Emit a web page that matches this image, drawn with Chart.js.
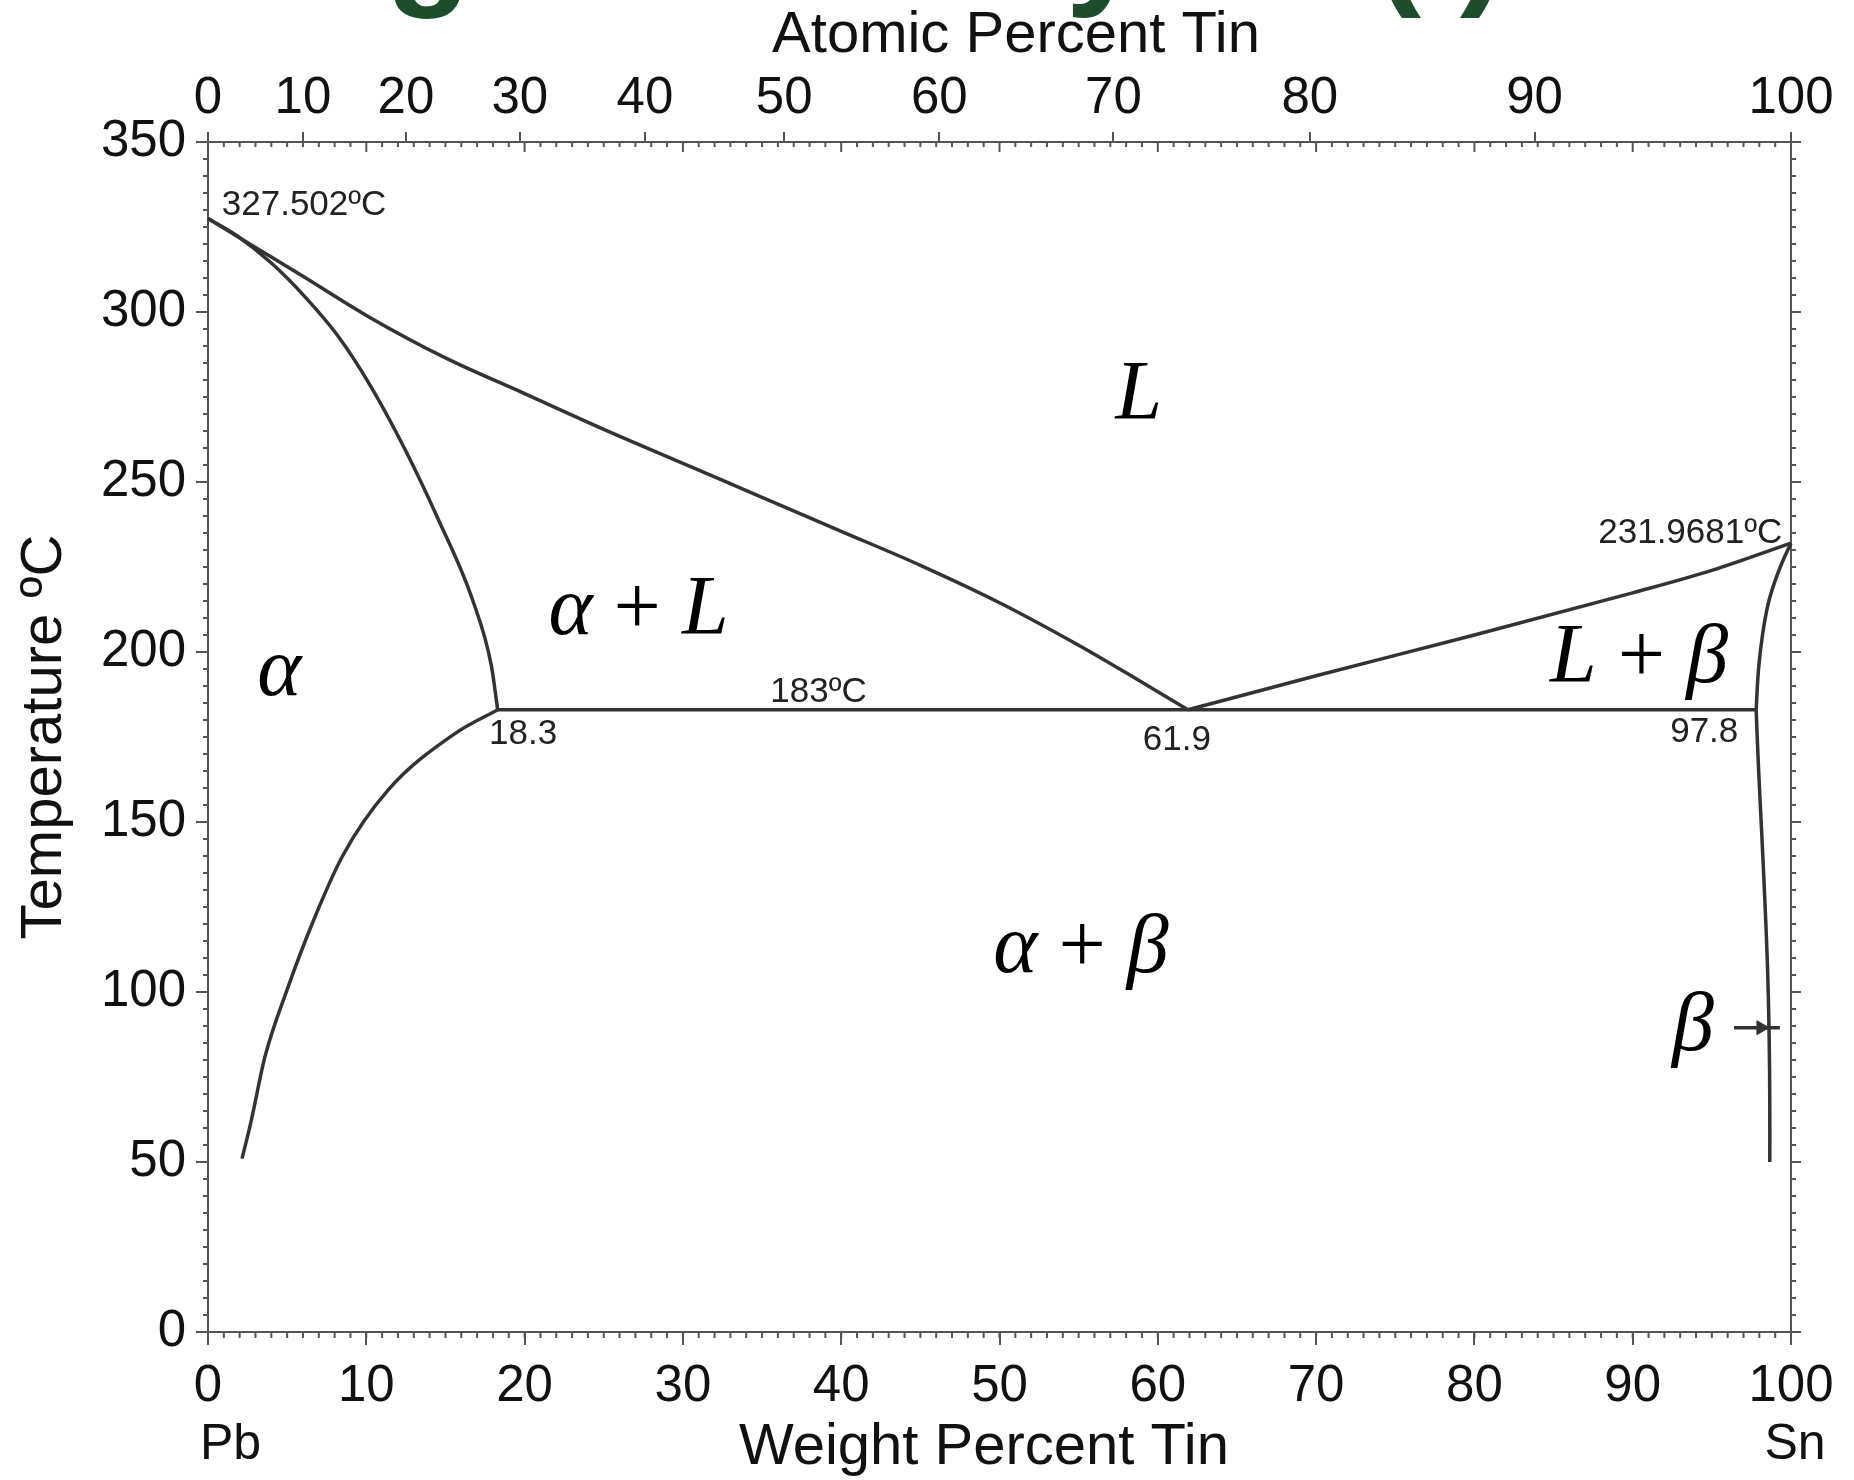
<!DOCTYPE html>
<html>
<head>
<meta charset="utf-8">
<title>Pb-Sn phase diagram</title>
<script src="https://cdn.jsdelivr.net/npm/chart.js@4.4.1/dist/chart.umd.min.js"></script>
<style>
  html, body { margin: 0; padding: 0; background: #fff; }
  #phaseChart { display: block; }
</style>
</head>
<body>
<canvas id="phaseChart" width="1854" height="1480"></canvas>
<script>
// Pb-Sn phase diagram
// composition in wt% Sn, temperature in deg C
var liquidusLeftWt = [0, 3, 6, 10, 15, 20, 25, 30, 35, 40, 45, 50, 55, 58.5, 61.9];
var liquidusLeftT  = [327.5, 319, 310.5, 299, 286.5, 276, 265.5, 255.5, 245.5, 235.5, 225.5, 214.5, 202, 192.5, 183];

var liquidusRightWt = [61.9, 70, 80, 90, 95, 100];
var liquidusRightT  = [183, 193, 205, 217.4, 224, 232];

var solidusLeftWt = [0, 1.9, 4.0, 6.1, 8.2, 10.3, 12.4, 14.5, 16.7, 17.9, 18.3];
var solidusLeftT  = [327.5, 322.2, 314.4, 304.6, 293, 278, 260, 239.5, 215.5, 196, 183];

// listed from low to high Sn so the curve can be drawn monotone
var solvusLeftWt = [2.15, 2.7, 3.6, 5.0, 6.6, 8.5, 11.4, 15.6, 18.3];
var solvusLeftT  = [51, 61.5, 81, 100.7, 120.3, 140, 159.5, 176, 183];

var solidusRightWt = [100, 99.5, 99.0, 98.55, 98.2, 97.95, 97.8];
var solidusRightT  = [232, 227, 221, 214, 205, 195, 183];

var solvusRightWt = [97.8, 97.94, 98.15, 98.35, 98.52, 98.62, 98.66, 98.66];
var solvusRightT  = [183, 166.7, 146.7, 126.7, 106.7, 86.7, 66.7, 50];

var eutecticWt = [18.3, 97.8];
var eutecticT  = [183, 183];

var arrowWt = [96.4, 99.3];
var arrowT  = [89.5, 89.5];
var arrowHeadWt = 98.1;

// top axis: atomic percent tin, placed at the matching weight percent
var atomicLabels = ['0', '10', '20', '30', '40', '50', '60', '70', '80', '90', '100'];
var atomicAtWt   = [0, 6.0, 12.5, 19.7, 27.6, 36.4, 46.2, 57.2, 69.6, 83.8, 100];

var valueNotes = [
  { text: '327.502\u00baC', wt: 0.87, t: 331.4, align: 'left' },
  { text: '231.9681\u00baC', wt: 99.45, t: 235, align: 'right' },
  { text: '183\u00baC', wt: 38.57, t: 188, align: 'center' },
  { text: '18.3', wt: 17.75, t: 175.7, align: 'left' },
  { text: '61.9', wt: 61.2, t: 174, align: 'center' },
  { text: '97.8', wt: 96.67, t: 176.4, align: 'right' }
];

var phaseLabels = [
  { parts: ['L'], wt: 58.8, t: 268.4 },
  { parts: ['\u03b1', ' + ', 'L'], wt: 27.2, t: 205.4 },
  { parts: ['\u03b1'], wt: 4.5, t: 187.4 },
  { parts: ['L', ' + ', '\u03b2'], wt: 90.4, t: 191.1 },
  { parts: ['\u03b1', ' + ', '\u03b2'], wt: 55.15, t: 106 },
  { parts: ['\u03b2'], wt: 93.8, t: 83 }
];

var lineColor = '#333';
var axisColor = '#555';
var sansFont = '"Liberation Sans", Arial, sans-serif';

function pts(xs, ys) {
  return xs.map(function (x, i) { return { x: x, y: ys[i] }; });
}

function curve(label, xs, ys, smooth) {
  var ds = {
    label: label,
    data: pts(xs, ys),
    borderColor: lineColor,
    borderWidth: 3.5,
    pointRadius: 0,
    tension: 0,
    fill: false,
    clip: 6
  };
  if (smooth === 'monotone') ds.cubicInterpolationMode = 'monotone';
  else if (smooth) ds.tension = smooth;
  return ds;
}

function fontFor(s) {
  return (s === ' + ' ? '' : 'italic ') + '84px "Liberation Serif", "Times New Roman", serif';
}

var minorTicks = {
  id: 'minorTicks',
  afterDraw: function (chart) {
    var ctx = chart.ctx, a = chart.chartArea;
    var xs = chart.scales.x, ys = chart.scales.y;
    ctx.save();
    ctx.strokeStyle = axisColor;
    ctx.lineWidth = 2;
    ctx.beginPath();
    for (var v = 0; v <= 100; v++) {
      var px = xs.getPixelForValue(v);
      ctx.moveTo(px, a.bottom);
      ctx.lineTo(px, a.bottom + 6);
      var len = v % 10 === 0 ? 10 : 5;
      ctx.moveTo(px, a.top);
      ctx.lineTo(px, a.top + len);
    }
    for (var t = 0; t <= 350; t += 5) {
      var py = ys.getPixelForValue(t);
      ctx.moveTo(a.left - 5, py);
      ctx.lineTo(a.left, py);
      ctx.moveTo(a.right, py);
      ctx.lineTo(a.right + 5, py);
    }
    ctx.stroke();
    ctx.restore();
  }
};

var diagramText = {
  id: 'diagramText',
  afterDatasetsDraw: function (chart) {
    var ctx = chart.ctx, xs = chart.scales.x, ys = chart.scales.y;
    ctx.save();
    ctx.fillStyle = '#222';
    ctx.font = '35px ' + sansFont;
    ctx.textBaseline = 'middle';
    valueNotes.forEach(function (n) {
      ctx.textAlign = n.align;
      ctx.fillText(n.text, xs.getPixelForValue(n.wt), ys.getPixelForValue(n.t));
    });

    // phase fields: letters italic, plus sign upright
    ctx.fillStyle = '#000';
    ctx.textBaseline = 'alphabetic';
    ctx.textAlign = 'left';
    phaseLabels.forEach(function (p) {
      var widths = p.parts.map(function (s) {
        ctx.font = fontFor(s);
        return ctx.measureText(s).width;
      });
      var total = widths.reduce(function (s, w) { return s + w; }, 0);
      var x = xs.getPixelForValue(p.wt) - total / 2;
      var y = ys.getPixelForValue(p.t);
      p.parts.forEach(function (s, i) {
        ctx.font = fontFor(s);
        ctx.fillText(s, x, y);
        x += widths[i];
      });
    });
    ctx.restore();
  },
  afterDraw: function (chart) {
    var ctx = chart.ctx, a = chart.chartArea, xs = chart.scales.x;
    ctx.save();
    ctx.fillStyle = '#111';
    ctx.font = '50px ' + sansFont;
    ctx.textBaseline = 'middle';
    ctx.textAlign = 'left';
    ctx.fillText('Pb', xs.getPixelForValue(0) - 8, a.bottom + 113);
    ctx.textAlign = 'center';
    ctx.fillText('Sn', xs.getPixelForValue(100) + 4, a.bottom + 113);

    // axis titles sit a little off centre in the original
    ctx.font = '58px ' + sansFont;
    ctx.fillText('Weight Percent Tin', 984, a.bottom + 116);
    ctx.fillText('Atomic Percent Tin', 1016, 36);

    // slide heading, only its descenders fall inside the picture
    ctx.fillStyle = '#1e4d2b';
    ctx.font = 'bold 139px ' + sansFont;
    ctx.textBaseline = 'alphabetic';
    ctx.textAlign = 'right';
    ctx.fillText('Phase Diagram Analysis (I)', 1506, -11);
    ctx.restore();
  }
};

var datasets = [
  curve('Liquidus Pb side', liquidusLeftWt, liquidusLeftT, 'monotone'),
  curve('Liquidus Sn side', liquidusRightWt, liquidusRightT, 'monotone'),
  curve('Solidus alpha', solidusLeftWt, solidusLeftT, 'monotone'),
  curve('Solvus alpha', solvusLeftWt, solvusLeftT, 'monotone'),
  curve('Solidus beta', solidusRightWt, solidusRightT, 0.4),
  curve('Solvus beta', solvusRightWt, solvusRightT, 0.4),
  curve('Eutectic 183', eutecticWt, eutecticT, 0),
  curve('Arrow', arrowWt, arrowT, 0),
  {
    label: 'Arrow head',
    data: [{ x: arrowHeadWt, y: arrowT[0] }],
    showLine: false,
    pointStyle: 'triangle',
    rotation: 90,
    pointRadius: 8,
    backgroundColor: lineColor,
    borderColor: lineColor,
    borderWidth: 1
  }
];

var tickFont = { family: sansFont, size: 51 };
var titleFont = { family: sansFont, size: 58, lineHeight: 1 };

var config = {
  type: 'line',
  data: { datasets: datasets },
  options: {
    responsive: false,
    animation: false,
    events: [],
    layout: { padding: 0 },
    plugins: {
      legend: { display: false },
      tooltip: { enabled: false }
    },
    scales: {
      x: {
        type: 'linear',
        position: 'bottom',
        min: 0,
        max: 100,
        afterFit: function (s) { s.height = 148; },
        ticks: { stepSize: 10, font: tickFont, color: '#111', padding: 11, maxRotation: 0 },
        grid: { drawOnChartArea: false, tickLength: 13, color: axisColor, lineWidth: 2 },
        border: { display: true, color: axisColor, width: 2 }
      },
      x2: {
        type: 'linear',
        position: 'top',
        min: 0,
        max: 100,
        afterFit: function (s) { s.height = 142; },
        afterBuildTicks: function (axis) {
          axis.ticks = atomicAtWt.map(function (v) { return { value: v }; });
        },
        ticks: {
          autoSkip: false,
          maxRotation: 0,
          font: tickFont,
          color: '#111',
          padding: 2,
          callback: function (value, index) { return atomicLabels[index]; }
        },
        grid: { drawOnChartArea: false, tickLength: 10, color: axisColor, lineWidth: 2 },
        border: { display: true, color: axisColor, width: 2 }
      },
      y: {
        type: 'linear',
        position: 'left',
        min: 0,
        max: 350,
        afterFit: function (s) { s.width = 208; },
        ticks: { stepSize: 50, font: tickFont, color: '#111', padding: 10 },
        grid: { drawOnChartArea: false, tickLength: 12, color: axisColor, lineWidth: 2 },
        border: { display: true, color: axisColor, width: 2 },
        title: { display: true, text: 'Temperature \u00baC', font: titleFont, color: '#111', padding: { top: 16, bottom: 0 } }
      },
      y2: {
        type: 'linear',
        position: 'right',
        min: 0,
        max: 350,
        afterFit: function (s) { s.width = 63; },
        ticks: { stepSize: 50, display: false },
        grid: { drawOnChartArea: false, tickLength: 10, color: axisColor, lineWidth: 2 },
        border: { display: true, color: axisColor, width: 2 }
      }
    }
  },
  plugins: [minorTicks, diagramText]
};

var ctx = document.getElementById('phaseChart').getContext('2d');
var phaseChart = new Chart(ctx, config);
</script>
</body>
</html>
